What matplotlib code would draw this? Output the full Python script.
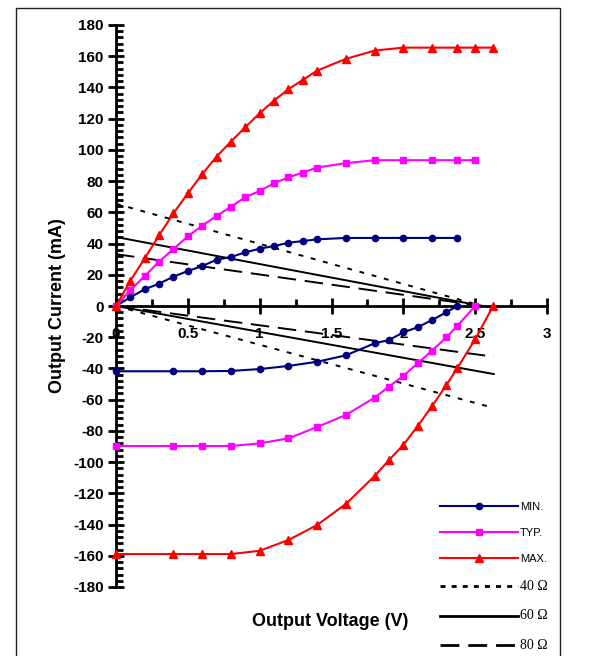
import matplotlib
matplotlib.use("Agg")
import matplotlib.pyplot as plt
from matplotlib.lines import Line2D
from matplotlib.patches import Rectangle
from matplotlib.ticker import MultipleLocator

plt.rcParams["font.family"] = ["Liberation Sans", "DejaVu Sans"]
plt.rcParams["axes.unicode_minus"] = False

# ---- data (V, mA) ----
min_up_v = [0, 0.1, 0.2, 0.3, 0.4, 0.5, 0.6, 0.7, 0.8, 0.9, 1.0, 1.1, 1.2, 1.3, 1.4,
            1.6, 1.8, 2.0, 2.2, 2.375]
min_up_i = [0, 5.6, 10.7, 14.3, 18.8, 22.4, 25.6, 29.6, 31.4, 34.4, 36.7, 38.4, 40.5,
            41.6, 42.7, 43.6, 43.6, 43.6, 43.6, 43.6]
min_lo_v = [0, 0.4, 0.6, 0.8, 1.0, 1.2, 1.4, 1.6, 1.8, 1.9, 2.0, 2.1, 2.2, 2.3, 2.375]
min_lo_i = [-41.8, -41.8, -41.8, -41.6, -40.4, -38.4, -35.7, -31.6, -23.9, -21.8,
            -16.9, -13.6, -9.0, -4.0, 0]

typ_up_v = [0, 0.1, 0.2, 0.3, 0.4, 0.5, 0.6, 0.7, 0.8, 0.9, 1.0, 1.1, 1.2, 1.3, 1.4,
            1.6, 1.8, 2.0, 2.2, 2.375, 2.5]
typ_up_i = [0, 10.2, 19.2, 28.4, 36.5, 44.6, 51.4, 57.7, 63.6, 69.7, 73.7, 78.6, 82.4,
            85.4, 88.7, 91.5, 93.4, 93.4, 93.4, 93.4, 93.4]
typ_lo_v = [0, 0.4, 0.6, 0.8, 1.0, 1.2, 1.4, 1.6, 1.8, 1.9, 2.0, 2.1, 2.2, 2.3, 2.375, 2.5]
typ_lo_i = [-89.7, -89.7, -89.7, -89.7, -88.0, -84.8, -77.5, -69.8, -58.7, -51.6,
            -44.8, -36.7, -28.6, -20.1, -12.8, 0]

max_up_v = [0, 0.1, 0.2, 0.3, 0.4, 0.5, 0.6, 0.7, 0.8, 0.9, 1.0, 1.1, 1.2, 1.3, 1.4,
            1.6, 1.8, 2.0, 2.2, 2.375, 2.5, 2.625]
max_up_i = [0, 16.2, 30.5, 45.3, 59.4, 72.2, 84.4, 95.7, 105.3, 114.5, 123.5, 131.6,
            138.9, 144.8, 150.8, 158.3, 163.6, 165.5, 165.5, 165.5, 165.5, 165.5]
max_lo_v = [0, 0.4, 0.6, 0.8, 1.0, 1.2, 1.4, 1.6, 1.8, 1.9, 2.0, 2.1, 2.2, 2.3, 2.375,
            2.5, 2.625]
max_lo_i = [-158.9, -158.9, -158.9, -158.9, -156.8, -149.9, -140.3, -126.8, -108.9,
            -98.7, -89.0, -76.9, -64.1, -50.6, -39.9, -21.3, 0]

# load lines: current at 0 V (upper) and at the far end (lower)
load_names = ["40 \u03a9", "60 \u03a9", "80 \u03a9"]
load_up_i0 = [65.5, 44.2, 33.2]
load_up_v_end = 2.55
load_lo_v_end = 2.63
load_lo_i_end = [-65.3, -43.6, -32.5]

W, H = 598, 656
fig = plt.figure(figsize=(W / 100, H / 100), dpi=100)
ax = fig.add_axes([116 / W, 1 - 587 / H, (547 - 116) / W, (587 - 25) / H])

load_styles = [(0, (2.5, 4.0)), "-", (0, (9.5, 4.5))]
for i0, i_end, ls in zip(load_up_i0, load_lo_i_end, load_styles):
    ax.plot([0, load_up_v_end], [i0, 0], color="black", lw=1.4, linestyle=ls, clip_on=False)
    ax.plot([0, load_lo_v_end], [0, i_end], color="black", lw=1.4, linestyle=ls, clip_on=False)

series = [
    ("MIN.", "#000080", "o", 4.5, min_up_v, min_up_i, min_lo_v, min_lo_i),
    ("TYP.", "#FF00FF", "s", 5.0, typ_up_v, typ_up_i, typ_lo_v, typ_lo_i),
    ("MAX.", "#FF0000", "^", 6.0, max_up_v, max_up_i, max_lo_v, max_lo_i),
]
for name, col, mk, ms, uv, ui, lv, li in series:
    for vv, ii in ((uv, ui), (lv, li)):
        ax.plot(vv, ii, color=col, lw=1.5, marker=mk, markersize=ms,
                markeredgecolor=col, clip_on=False, zorder=3)

ax.set_xlim(0, 3)
ax.set_ylim(-180, 180)
for s in ("top", "right"):
    ax.spines[s].set_visible(False)
ax.spines["bottom"].set_position(("data", 0))
ax.spines["left"].set_linewidth(2)
ax.spines["bottom"].set_linewidth(2)

ax.xaxis.set_minor_locator(MultipleLocator(0.25))
ax.yaxis.set_major_locator(MultipleLocator(20))
ax.yaxis.set_minor_locator(MultipleLocator(4))
ax.set_xticks([0, 0.5, 1, 1.5, 2, 2.5, 3])
ax.set_xticklabels(["0", "0.5", "1", "1.5", "2", "2.5", "3"])
ax.tick_params(axis="both", which="major", direction="inout", length=12, width=2,
               labelsize=11)
ax.tick_params(axis="both", which="minor", direction="in", length=5, width=2)
ax.tick_params(axis="x", which="major", pad=9)
ax.tick_params(axis="y", which="major", pad=3)
for lab in ax.get_xticklabels() + ax.get_yticklabels():
    lab.set_fontweight("bold")

fig.text(57 / W, 1 - 306 / H, "Output Current (mA)", rotation=90, ha="center",
         va="center", fontsize=13, fontweight="bold")
fig.text(330 / W, 1 - 621 / H, "Output Voltage (V)", ha="center", va="center",
         fontsize=13, fontweight="bold")

handles = [Line2D([], [], color=c, lw=1.5, marker=m, markersize=ms, markeredgecolor=c)
           for _, c, m, ms, *_ in series]
legend_load_styles = [(0, (1.8, 2.2)), "-", (0, (6.8, 3.2))]
handles += [Line2D([], [], color="black", lw=2, linestyle=ls) for ls in legend_load_styles]
labels = [s[0] for s in series] + load_names
leg = fig.legend(handles, labels, loc="upper left", bbox_to_anchor=(440 / W, 1 - 502 / H),
                 frameon=False, fontsize=8, handlelength=7.0, handletextpad=0.2,
                 labelspacing=1.45, borderpad=0, borderaxespad=0)
for t in leg.get_texts()[3:]:
    t.set_fontfamily("Liberation Serif")
    t.set_fontsize(10)

fig.patches.append(Rectangle((15.5 / W, -0.1), (560 - 15.5) / W, 1.1 - 7.5 / H,
                             transform=fig.transFigure, fill=False, lw=1,
                             edgecolor="#222222"))

fig.savefig("out.png", dpi=100)
